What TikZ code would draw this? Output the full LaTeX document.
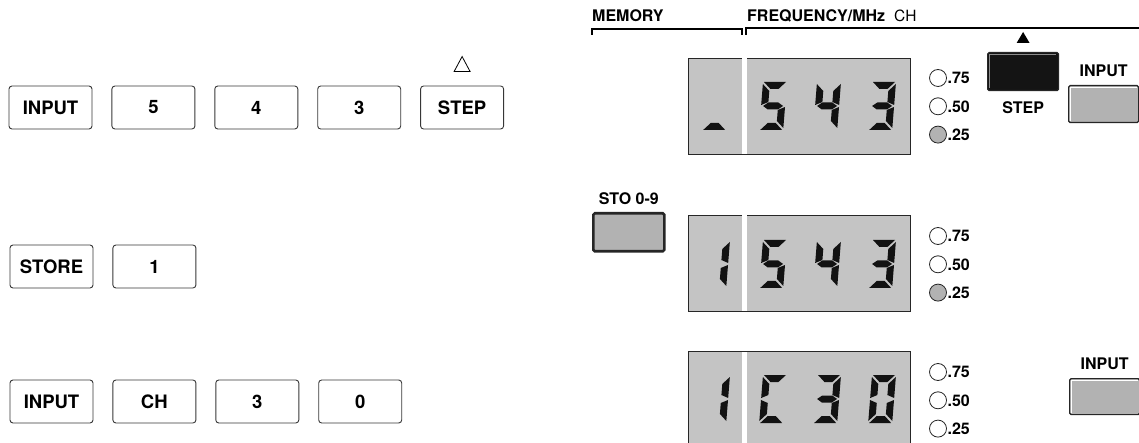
\documentclass[tikz,border=0pt]{standalone}
\usepackage{fontspec}
\setmainfont{TeX Gyre Heros}
\usetikzlibrary{positioning}
\definecolor{keyline}{RGB}{55,55,55}
\definecolor{lcdgray}{RGB}{196,196,196}
\definecolor{knobgray}{RGB}{178,178,178}
\definecolor{segblack}{RGB}{18,18,18}
\newcommand{\keyfont}{\fontsize{18.5}{21}\selectfont\bfseries}
\newcommand{\panelfont}{\fontsize{16}{19}\selectfont\bfseries}
\tikzset{
  keybox/.style={draw=keyline, line width=0.9pt, rounded corners=3pt, minimum width=83pt, minimum height=43pt, inner sep=0pt, font=\keyfont},
  lcd/.style={draw=black!85, fill=lcdgray, line width=0.9pt, minimum width=222pt, minimum height=96pt, anchor=north west, inner sep=0pt},
  led/.style={circle, draw=black!85, line width=0.8pt, minimum size=17pt, inner sep=0pt},
  ledlbl/.style={font=\panelfont, inner sep=0pt},
  knob/.style={draw=black!85, fill=knobgray, line width=1.2pt, rounded corners=1.5pt, inner sep=0pt, anchor=north west},
  lbl/.style={font=\panelfont, inner sep=0pt},
  seg/.style={fill=segblack}
}
% seven segment pieces, local units, y downwards
\newcommand{\dsega}{\fill[seg] (1,0) -- (23,0) -- (16,7) -- (8,7) -- cycle;}
\newcommand{\dsegb}{\fill[seg] (24,2) -- (17,9) -- (17,20) -- (24,23) -- cycle;}
\newcommand{\dsegc}{\fill[seg] (24,25) -- (17,28) -- (17,39) -- (24,46) -- cycle;}
\newcommand{\dsegd}{\fill[seg] (1,48) -- (23,48) -- (16,41) -- (8,41) -- cycle;}
\newcommand{\dsege}{\fill[seg] (0,25) -- (7,28) -- (7,39) -- (0,46) -- cycle;}
\newcommand{\dsegf}{\fill[seg] (0,2) -- (7,9) -- (7,20) -- (0,23) -- cycle;}
\newcommand{\dsegg}{\fill[seg] (2,24) -- (7,20.5) -- (17,20.5) -- (22,24) -- (17,27.5) -- (7,27.5) -- cycle;}
\newcommand{\lcddigit}[3]{%
  \begin{scope}[shift={(#1,#2)}, xslant=0.08]
    \foreach \s in {#3} {\csname dseg\s\endcsname}
  \end{scope}}

\begin{document}
\begin{tikzpicture}[x=1pt, y=-1pt]
\useasboundingbox (0,0) rectangle (1139,443);

% key sequences
\node[keybox] (in1) at (50.5,107.5) {INPUT};
\node[keybox, right=19pt of in1] (k5) {5};
\node[keybox, right=19pt of k5] (k4) {4};
\node[keybox, right=19pt of k4] (k3) {3};
\node[keybox, right=19pt of k3] (stp) {STEP};
\draw[line width=0.8pt] ([yshift=14pt]stp.north) +(-8,0) -- +(8,0) -- +(0,-15) -- cycle;

\node[keybox] (sto) at (51.5,266.5) {STORE};
\node[keybox, right=19pt of sto] (k1) {1};

\node[keybox] (in3) at (51.5,401.5) {INPUT};
\node[keybox, right=19pt of in3] (kch) {CH};
\node[keybox, right=19pt of kch] (k3b) {3};
\node[keybox, right=19pt of k3b] (k0) {0};

% panel headings
\node[lbl, anchor=base west] (mem) at (592,22) {MEMORY};
\node[lbl, anchor=base west] (freq) at (747,22) {FREQUENCY/MHz};
\node[lbl, anchor=base west, font=\fontsize{15.5}{18}\selectfont] (chan) at (894,22) {CH};
\draw[line width=1.2pt] (592,35) -- (592,29) -- (742,29) -- (742,35);
\draw[line width=1.2pt] (746,35) -- (746,28) -- (1139,28);

% displays
\node[lcd] (lcd1) at (688,58) {};
\node[lcd] (lcd2) at (688,215) {};
\node[lcd] (lcd3) at (688,351) {};
\foreach \d in {lcd1,lcd2,lcd3}
  \fill[white] ([xshift=54pt,yshift=-0.5pt]\d.north west) rectangle ([xshift=59pt,yshift=0.5pt]\d.south west);

\lcddigit{706}{82}{d}
\lcddigit{763}{82}{a,f,g,c,d}
\lcddigit{817}{82}{f,g,b,c}
\lcddigit{872}{82}{a,b,g,c,d}

\lcddigit{706}{240}{b,c}
\lcddigit{763}{240}{a,f,g,c,d}
\lcddigit{817}{240}{f,g,b,c}
\lcddigit{872}{240}{a,b,g,c,d}

\lcddigit{706}{375}{b,c}
\lcddigit{763}{375}{a,f,e,d}
\lcddigit{817}{375}{a,b,g,c,d}
\lcddigit{872}{375}{a,b,c,d,e,f}

% step indicators
\foreach \d/\yy/\lit in {1/78/knobgray, 2/236/knobgray, 3/372/white} {
  \node[led] (a\d) at (938,\yy) {};
  \node[led, below=10.5pt of a\d] (b\d) {};
  \node[led, fill=\lit, below=10.5pt of b\d] (c\d) {};
  \node[ledlbl, right=0.5pt of a\d] {.75};
  \node[ledlbl, right=0.5pt of b\d] {.50};
  \node[ledlbl, right=0.5pt of c\d] {.25};
}

% buttons
\node[knob, fill=black!92, minimum width=71pt, minimum height=38pt] (stepk) at (987,52) {};
\draw[black!45, line width=0.6pt] ([shift={(2.5pt,3pt)}]stepk.south west) |- ([shift={(-3pt,-2.5pt)}]stepk.north east);
\fill ([yshift=9pt]stepk.north) +(-6.5,0) -- +(6.5,0) -- +(0,-11) -- cycle;
\node[lbl, below=10pt of stepk] (steplbl) {STEP};

\node[knob, minimum width=70pt, minimum height=37pt] (inkey1) at (1068,85) {};
\draw[white, line width=0.6pt] ([shift={(2.5pt,2.5pt)}]inkey1.south west) |- ([shift={(-2.5pt,-2.5pt)}]inkey1.north east);
\node[lbl, above=8pt of inkey1] (inlbl1) {INPUT};

\node[knob, minimum width=70pt, minimum height=36pt] (inkey3) at (1069,378) {};
\draw[white, line width=0.6pt] ([shift={(2.5pt,2.5pt)}]inkey3.south west) |- ([shift={(-2.5pt,-2.5pt)}]inkey3.north east);
\node[lbl, above=8pt of inkey3] (inlbl3) {INPUT};

\node[knob, line width=2.6pt, minimum width=71pt, minimum height=38pt] (stok) at (592,212) {};
\node[lbl, above=7pt of stok] (stolbl) {STO 0-9};
\end{tikzpicture}
\end{document}
